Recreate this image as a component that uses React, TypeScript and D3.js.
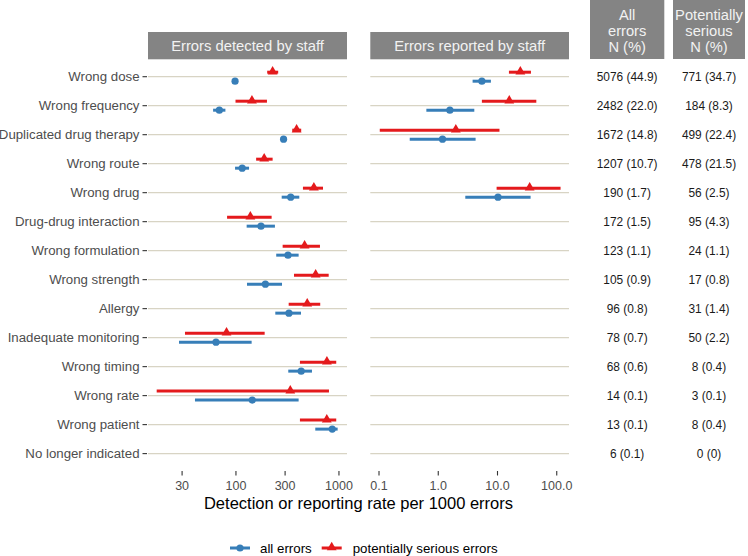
import React from "react";
import * as d3 from "d3";

const categories = [
  "Wrong dose", "Wrong frequency", "Duplicated drug therapy", "Wrong route", "Wrong drug",
  "Drug-drug interaction", "Wrong formulation", "Wrong strength", "Allergy",
  "Inadequate monitoring", "Wrong timing", "Wrong rate", "Wrong patient", "No longer indicated",
];
const allErrorsN = ["5076 (44.9)", "2482 (22.0)", "1672 (14.8)", "1207 (10.7)", "190 (1.7)", "172 (1.5)", "123 (1.1)", "105 (0.9)", "96 (0.8)", "78 (0.7)", "68 (0.6)", "14 (0.1)", "13 (0.1)", "6 (0.1)"];
const seriousN = ["771 (34.7)", "184 (8.3)", "499 (22.4)", "478 (21.5)", "56 (2.5)", "95 (4.3)", "24 (1.1)", "17 (0.8)", "31 (1.4)", "50 (2.2)", "8 (0.4)", "3 (0.1)", "8 (0.4)", "0 (0)"];

// Detected by staff: [estimate, lower, upper] per 1000 errors
const detectedAll: (number[] | null)[] = [
  [98, 95, 101], [69, 60, 79], [290, 280, 300], [115, 98, 134], [340, 278, 412],
  [175, 127, 239], [320, 246, 406], [193, 128, 280], [327, 241, 428], [64, 28, 142],
  [430, 322, 547], [144, 40, 406], [861, 589, 971], null,
];
const detectedSerious: (number[] | null)[] = [
  [227, 201, 257], [143, 99, 200], [388, 352, 430], [188, 157, 227], [571, 447, 700],
  [138, 82, 222], [464, 284, 654], [594, 366, 795], [492, 325, 658], [81, 32, 190],
  [764, 418, 941], [337, 17, 800], [762, 418, 941], null,
];
// Reported by staff
const reportedAll: (number[] | null)[] = [
  [5.45, 3.8, 7.74], [1.57, 0.63, 4.06], [1.18, 0.33, 4.27], null, [10.2, 2.86, 36.2],
  null, null, null, null, null, null, null, null, null,
];
const reportedSerious: (number[] | null)[] = [
  [24.3, 15.6, 36.7], [15.8, 5.45, 45.2], [1.98, 0.103, 10.8], null, [34.9, 9.66, 116],
  null, null, null, null, null, null, null, null, null,
];
const leftTicks = [30, 100, 300, 1000];
const rightTicks = [0.1, 1, 10, 100];

const BLUE = "#377EB8";
const RED = "#E41A1C";
const FONT = "'Liberation Sans', Arial, Helvetica, sans-serif";
const GRID = "#d8d4c4";
const STRIP = "#848484";

export default function App() {
  const y = d3.scalePoint<string>().domain(categories).range([59.3, 471]).padding(0.6);
  const xL = d3.scaleLog().domain([14.0, 1197]).range([148, 347]);
  const xR = d3.scaleLog().domain([0.0713, 161]).range([370.3, 569]);
  const tri = d3.symbol().type(d3.symbolTriangle).size(42)() as string;
  const off = 4.5;
  const panelBot = 471;

  const panel = (
    x: d3.ScaleLogarithmic<number, number>,
    all: (number[] | null)[],
    ser: (number[] | null)[],
    title: string,
    ticks: number[],
    fmt: (v: number) => string
  ) => {
    const [x0, x1] = x.range();
    return (
      <g>
        <rect x={x0} y={32} width={x1 - x0} height={27.3} fill={STRIP} />
        <text x={(x0 + x1) / 2} y={46} fill="#f2f2f2" fontSize={14.8} textAnchor="middle" dominantBaseline="central">{title}</text>
        {categories.map((c) => (
          <line key={c} x1={x0} x2={x1} y1={y(c)} y2={y(c)} stroke={GRID} strokeWidth={1.3} />
        ))}
        {ticks.map((t) => (
          <g key={t}>
            <line x1={x(t)} x2={x(t)} y1={panelBot} y2={panelBot + 4.5} stroke="#333" strokeWidth={1.1} />
            <text x={x(t)} y={486} fill="#4d4d4d" fontSize={12.5} textAnchor="middle" dominantBaseline="central">{fmt(t)}</text>
          </g>
        ))}
        {categories.map((c, i) => {
          const yy = y(c) as number;
          const a = all[i];
          const s = ser[i];
          return (
            <g key={c}>
              {a && (
                <g>
                  <line x1={x(a[1])} x2={x(a[2])} y1={yy + off} y2={yy + off} stroke={BLUE} strokeWidth={3} />
                  <circle cx={x(a[0])} cy={yy + off} r={3.6} fill={BLUE} />
                </g>
              )}
              {s && (
                <g>
                  <line x1={x(s[1])} x2={x(s[2])} y1={yy - off} y2={yy - off} stroke={RED} strokeWidth={3} />
                  <path d={tri} transform={`translate(${x(s[0])},${yy - off - 0.5})`} fill={RED} />
                </g>
              )}
            </g>
          );
        })}
      </g>
    );
  };

  const headers = [
    { x0: 590, x1: 664.3, lines: ["All", "errors", "N (%)"], vals: allErrorsN },
    { x0: 673, x1: 745, lines: ["Potentially", "serious", "N (%)"], vals: seriousN },
  ];

  return (
    <div style={{ position: "absolute", left: 0, top: 0 }}>
      <svg width={748} height={556} style={{ display: "block", fontFamily: FONT }}>
        <rect width={748} height={556} fill="#fff" />
        {categories.map((c) => (
          <g key={c}>
            <text x={139.5} y={y(c)} fill="#4d4d4d" fontSize={13.25} textAnchor="end" dominantBaseline="central">{c}</text>
            <line x1={142.5} x2={147} y1={y(c)} y2={y(c)} stroke="#333" strokeWidth={1.1} />
          </g>
        ))}
        {panel(xL, detectedAll, detectedSerious, "Errors detected by staff", leftTicks, (v) => d3.format("d")(v))}
        {panel(xR, reportedAll, reportedSerious, "Errors reported by staff", rightTicks, (v) => d3.format(".1f")(v))}
        {headers.map((h) => (
          <g key={h.lines[0]}>
            <rect x={h.x0} y={0} width={h.x1 - h.x0} height={59} fill={STRIP} />
            {h.lines.map((l, k) => (
              <text key={k} x={(h.x0 + h.x1) / 2} y={14.5 + 16.3 * k} fill="#f2f2f2" fontSize={14.7} textAnchor="middle" dominantBaseline="central">{l}</text>
            ))}
            {categories.map((c, i) => (
              <text key={c} x={(h.x0 + h.x1) / 2} y={y(c)} fill="#1a1a1a" fontSize={11.9} textAnchor="middle" dominantBaseline="central">{h.vals[i]}</text>
            ))}
          </g>
        ))}
        <text x={358.5} y={503} fill="#000" fontSize={16.5} textAnchor="middle" dominantBaseline="central">Detection or reporting rate per 1000 errors</text>
        <g>
          <line x1={230} x2={250} y1={548} y2={548} stroke={BLUE} strokeWidth={3} />
          <circle cx={240} cy={548} r={3.6} fill={BLUE} />
          <text x={260} y={548} fill="#000" fontSize={13.3} dominantBaseline="central">all errors</text>
          <line x1={321.7} x2={341.7} y1={548} y2={548} stroke={RED} strokeWidth={3} />
          <path d={tri} transform="translate(331.7,547.5)" fill={RED} />
          <text x={352.7} y={548} fill="#000" fontSize={13.3} dominantBaseline="central">potentially serious errors</text>
        </g>
      </svg>
    </div>
  );
}
